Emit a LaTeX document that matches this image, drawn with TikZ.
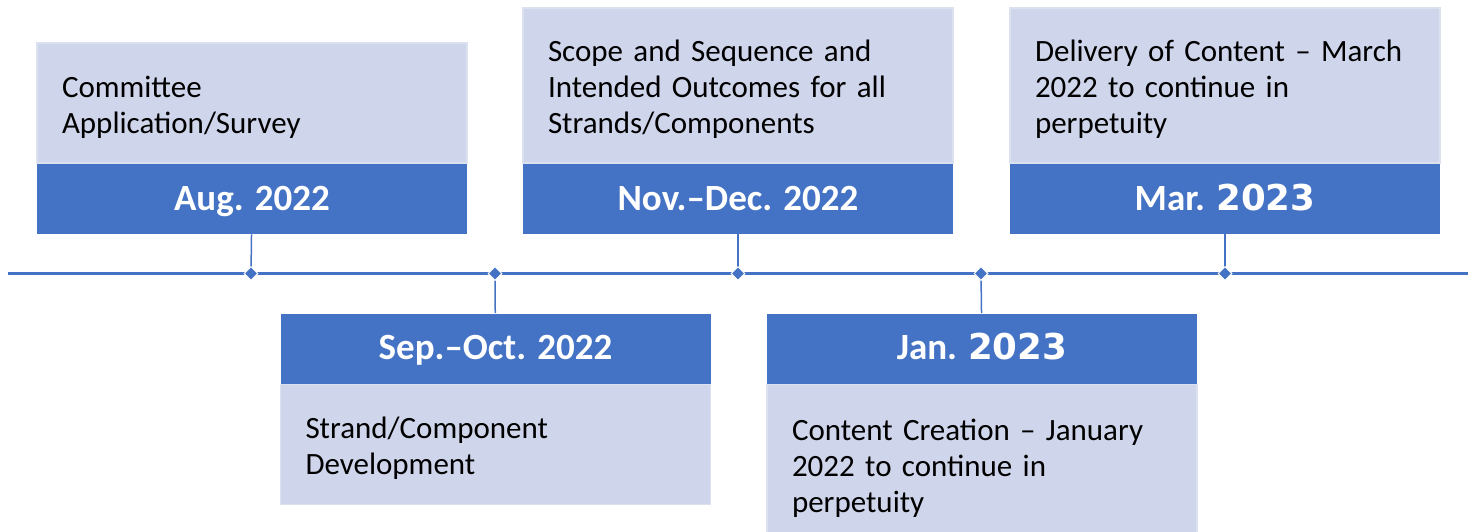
\documentclass[tikz,border=0pt]{standalone}
\usepackage{fontspec}
\setmainfont{Carlito}
\newfontfamily\yearfont{DejaVu Sans}
\usepackage{tikz}
\usetikzlibrary{positioning, shapes.geometric}

\definecolor{darkblue}{HTML}{4472C4}
\definecolor{paleblue}{HTML}{CFD5EA}
\definecolor{paleedge}{HTML}{DCE1F0}

\newcommand{\yr}[1]{{\yearfont\bfseries\fontsize{17.8}{22}\selectfont #1}}

\begin{document}
\begin{tikzpicture}
    [
      x=0.5pt, y=-0.5pt,
      head/.style={rectangle,fill=darkblue,text=white,minimum width=215pt,minimum height=35pt,inner sep=0pt,
        text height=11pt,text depth=0pt,font=\fontsize{18.5}{22}\selectfont\bfseries},
      body/.style={rectangle,fill=paleblue,draw=paleedge,line width=0.6pt,minimum width=215pt,text width=190pt,
        inner xsep=12.5pt,inner ysep=0pt,align=left,font=\fontsize{15.5}{18}\selectfont,
        execute at begin node={\rule{0pt}{14.5pt}}},
      mark point/.style={diamond,fill=darkblue,draw=white,line width=0.5pt,minimum size=7pt,inner sep=0pt},
      tick/.style={draw=darkblue,line width=0.75pt},
      axis/.style={draw=darkblue,line width=1.1pt}
    ]
    \useasboundingbox (0,0) rectangle (1474,531);

    % ticks on the timeline
    \coordinate (tl_) at (8,273.5);
    \coordinate (tl+) at (1468,273.5);
    \coordinate (tAug) at (251,273.5);
    \coordinate (tSep) at (495,273.5);
    \coordinate (tNov) at (738,273.5);
    \coordinate (tJan) at (981,273.5);
    \coordinate (tMar) at (1225,273.5);
    \path (tl_) edge [axis] (tl+);

    \node (hAug) [head] at (252,199) {Aug. 2022};
    \node (hSep) [head] at (495.5,348.5) {Sep.--Oct. 2022};
    \node (hNov) [head] at (738,199) {Nov.--Dec. 2022};
    \node (hJan) [head] at (982,348.5) {Jan. \yr{2023}};
    \node (hMar) [head] at (1225,199) {Mar. \yr{2023}};

    \node (bAug) [body, minimum height=60pt, above=0pt of hAug] {Committee\\Application/Survey};
    \node (bSep) [body, minimum height=60pt, below=0pt of hSep] {Strand/Component\\Development};
    \node (bNov) [body, minimum height=77.5pt, above=0pt of hNov] {Scope and Sequence and\\Intended Outcomes for all\\Strands/Components};
    \node (bJan) [body, minimum height=80pt, below=0pt of hJan] {Content Creation -- January\\2022 to continue in\\perpetuity};
    \node (bMar) [body, minimum height=77.5pt, above=0pt of hMar] {Delivery of Content -- March\\2022 to continue in\\perpetuity};

    \path
    (hAug) edge [tick] (tAug)
    (hSep) edge [tick] (tSep)
    (hNov) edge [tick] (tNov)
    (hJan) edge [tick] (tJan)
    (hMar) edge [tick] (tMar)
    ;

    \node (dAug) [mark point] at (tAug) {};
    \node (dSep) [mark point] at (tSep) {};
    \node (dNov) [mark point] at (tNov) {};
    \node (dJan) [mark point] at (tJan) {};
    \node (dMar) [mark point] at (tMar) {};

  \end{tikzpicture}
\end{document}
